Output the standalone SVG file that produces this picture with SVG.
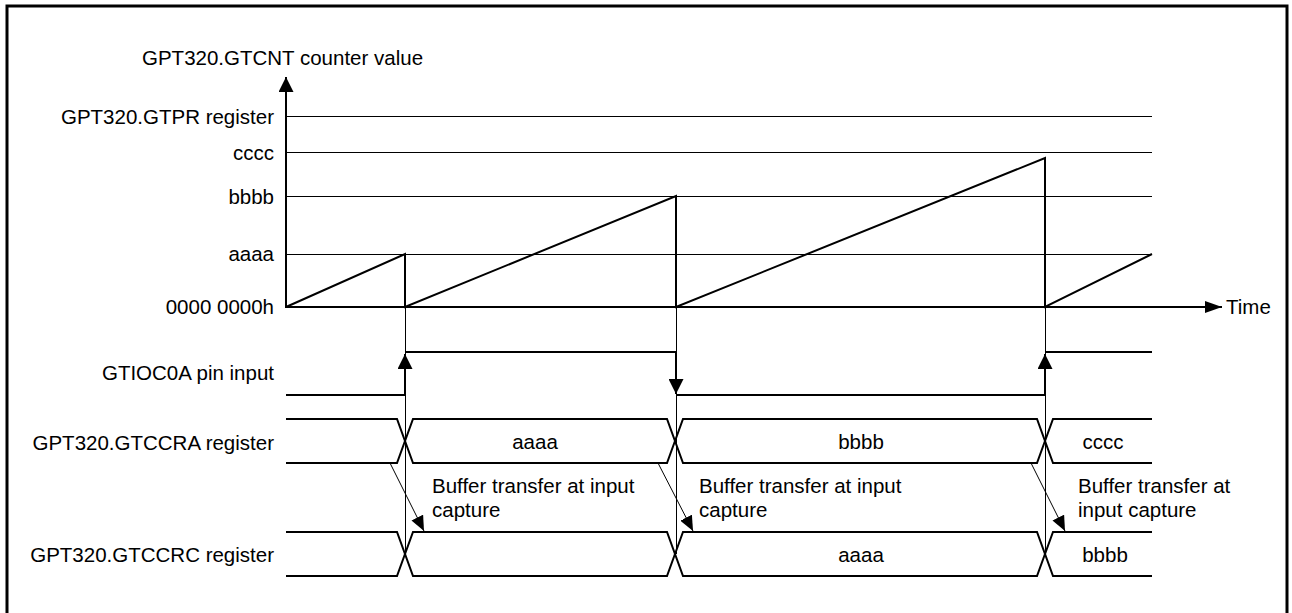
<svg xmlns="http://www.w3.org/2000/svg" width="1292" height="613" viewBox="0 0 1292 613">
<style>
text{font-family:"Liberation Sans",Arial,sans-serif;font-size:20.5px;fill:#000}
.lbl{text-anchor:end}
.mid{text-anchor:middle}
.thin{stroke:#000;stroke-width:1;fill:none}
.thick{stroke:#000;stroke-width:2;fill:none}
.bus{stroke:#000;stroke-width:2;fill:none;stroke-linejoin:miter}
</style>
<defs>
<marker id="ah" markerUnits="userSpaceOnUse" markerWidth="15" markerHeight="15" viewBox="0 0 15 15" refX="15" refY="7.5" orient="auto"><path d="M0,0 L15,7.5 L0,15 z" fill="#000"/></marker>
<marker id="ahT" markerUnits="userSpaceOnUse" markerWidth="17" markerHeight="12" viewBox="0 0 17 12" refX="17" refY="6" orient="auto"><path d="M0,0 L17,6 L0,12 z" fill="#000"/></marker>
<marker id="ahS" markerUnits="userSpaceOnUse" markerWidth="15" markerHeight="13" viewBox="0 0 15 13" refX="15" refY="6.5" orient="auto"><path d="M0,0 L15,6.5 L0,13 z" fill="#000"/></marker>
</defs>
<rect x="0" y="0" width="1292" height="613" fill="#fff"/>
<rect x="7" y="6" width="1280" height="612" fill="none" stroke="#000" stroke-width="3"/>

<g id="axes">
<text x="142" y="65">GPT320.GTCNT counter value</text>
<line class="thick" x1="286" y1="308" x2="286" y2="77" marker-end="url(#ah)"/>
<line class="thick" x1="286" y1="307" x2="1222" y2="307" marker-end="url(#ahT)"/>
<text x="1226" y="314">Time</text>
</g>

<g id="levels">
<line class="thin" x1="286" y1="116.5" x2="1152" y2="116.5"/>
<line class="thin" x1="286" y1="152.5" x2="1152" y2="152.5"/>
<line class="thin" x1="286" y1="196.5" x2="1152" y2="196.5"/>
<line class="thin" x1="286" y1="254.5" x2="1152" y2="254.5"/>
<text class="lbl" x="274" y="124">GPT320.GTPR register</text>
<text class="lbl" x="274" y="160">cccc</text>
<text class="lbl" x="274" y="204">bbbb</text>
<text class="lbl" x="274" y="261">aaaa</text>
<text class="lbl" x="274" y="314">0000 0000h</text>
</g>

<g id="counter">
<polyline class="thick" points="286,307 405,254 405,307 676,196 676,307 1045,158 1045,307 1152,254"/>
</g>

<g id="gtioc">
<text class="lbl" x="274" y="380">GTIOC0A pin input</text>
<polyline class="thick" points="286,395 405,395"/>
<line class="thick" x1="405" y1="395" x2="405" y2="354" marker-end="url(#ah)"/>
<polyline class="thick" points="405,352 676,352 676,356"/>
<line class="thick" x1="676" y1="352" x2="676" y2="394" marker-end="url(#ah)"/>
<polyline class="thick" points="676,395 1045,395"/>
<line class="thick" x1="1045" y1="395" x2="1045" y2="354" marker-end="url(#ah)"/>
<polyline class="thick" points="1045,352 1152,352"/>
</g>

<g id="gtccra">
<text class="lbl" x="274" y="450">GPT320.GTCCRA register</text>
<path class="bus" d="M286,419 H397 L413,463 H667 L683,419 H1037 L1053,463 H1152 M286,463 H397 L413,419 H667 L683,463 H1037 L1053,419 H1152"/>
<text class="mid" x="535" y="449">aaaa</text>
<text class="mid" x="861" y="449">bbbb</text>
<text class="mid" x="1103" y="449">cccc</text>
</g>

<g id="gtccrc">
<text class="lbl" x="274" y="562">GPT320.GTCCRC register</text>
<path class="bus" d="M286,532 H397 L413,576 H667 L683,532 H1037 L1053,576 H1152 M286,576 H397 L413,532 H667 L683,576 H1037 L1053,532 H1152"/>
<text class="mid" x="861" y="562">aaaa</text>
<text class="mid" x="1105" y="562">bbbb</text>
</g>

<g id="connectors">
<line class="thin" x1="405.5" y1="307" x2="405.5" y2="554"/>
<line class="thin" x1="676.5" y1="307" x2="676.5" y2="554"/>
<line class="thin" x1="1045.5" y1="307" x2="1045.5" y2="554"/>
<line class="thin" x1="390" y1="463" x2="424" y2="531" marker-end="url(#ahS)"/>
<line class="thin" x1="658" y1="463" x2="693" y2="531" marker-end="url(#ahS)"/>
<line class="thin" x1="1031" y1="463" x2="1065" y2="531" marker-end="url(#ahS)"/>
</g>

<g id="notes">
<text x="432" y="493">Buffer transfer at input</text>
<text x="432" y="517">capture</text>
<text x="699" y="493">Buffer transfer at input</text>
<text x="699" y="517">capture</text>
<text x="1078" y="493">Buffer transfer at</text>
<text x="1078" y="517">input capture</text>
</g>
</svg>
